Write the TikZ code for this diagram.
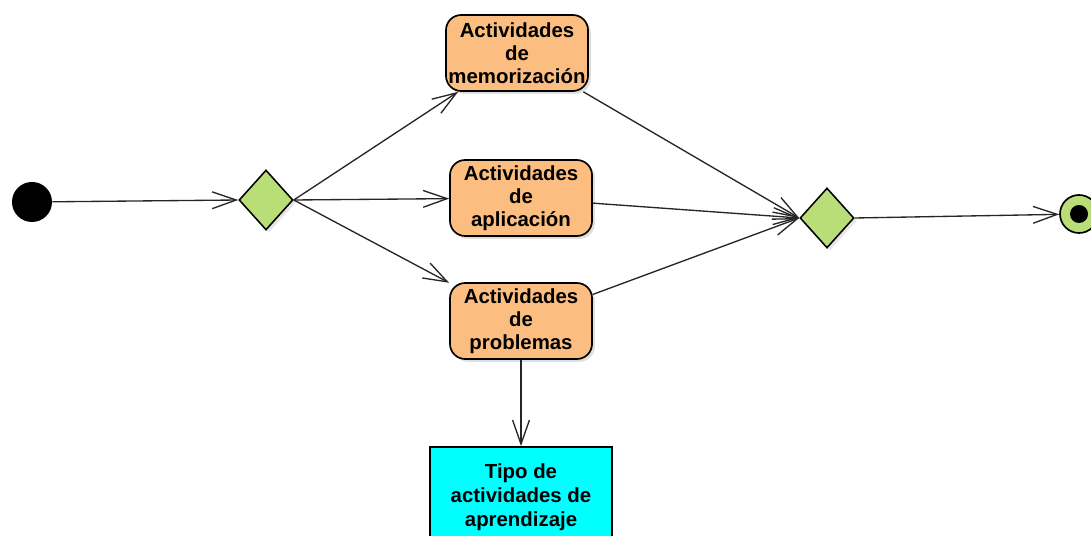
\documentclass[tikz,border=0pt]{standalone}
\usepackage{fontspec}
\setmainfont{Liberation Sans}
\usepackage{xcolor}
\usetikzlibrary{shapes.geometric}
\usetikzlibrary{arrows.meta}
\usetikzlibrary{shadows}
\definecolor{actorange}{RGB}{251,190,128}
\definecolor{decgreen}{RGB}{185,222,120}
\definecolor{objcyan}{RGB}{0,255,255}
\tikzset{activity/.style={draw=black, line width=1.2pt, fill=actorange, rounded corners=0.38cm,
   minimum width=3.55cm, minimum height=1.9cm, inner sep=0pt, align=center,
   font=\fontsize{14.5}{16.4}\selectfont\bfseries,
   drop shadow={shadow xshift=2pt, shadow yshift=-2pt, opacity=0.25}},
 decision/.style={diamond, draw=black, line width=1.1pt, fill=decgreen, inner sep=0pt,
   minimum width=1.35cm, minimum height=1.5cm,
   drop shadow={shadow xshift=2pt, shadow yshift=-2pt, opacity=0.2}},
 object/.style={draw=black, line width=1.2pt, fill=objcyan, minimum width=4.55cm,
   minimum height=2.5cm, inner sep=0pt, align=center,
   font=\fontsize{14.5}{17.2}\selectfont\bfseries},
 flow/.style={draw=black!85, line width=0.95pt,
   -{Straight Barb[length=0.6cm, width=0.42cm, line width=0.95pt]}},
 }

\begin{document}
\begin{tikzpicture}[x=0.025cm, y=-0.025cm]
        \useasboundingbox (0,0) rectangle (1091,536);
        % start and end
        \node[circle, fill=black, minimum size=1cm, inner sep=0pt] (start) at (32,202) {};
        \node[circle, draw=black, line width=1.2pt, fill=decgreen, minimum size=0.95cm, inner sep=0pt] (end) at (1079,214) {};
        \node[circle, fill=black, minimum size=0.45cm, inner sep=0pt] (enddot) at (end) {};
        % decisions
        \node[decision] (split) at (266,200) {};
        \node[decision] (merge) at (827,218) {};
        % activities
        \node[activity] (memo) at (517,53) {Actividades\\de\\memorizaci\'on};
        \node[activity] (aplic) at (521,198) {Actividades\\de\\aplicaci\'on};
        \node[activity] (probl) at (521,321) {Actividades\\de\\problemas};
        \node[object] (tipo) at (521,497) {Tipo de\\actividades de\\aprendizaje};
        % flows
        \draw[flow] (start) -- (split.west);
        \foreach \act in {memo, aplic, probl} {
            \draw[flow] (split.east) -- (\act);
            \draw[flow] (\act) -- (merge.west);
        }
        \draw[flow] (merge.east) -- (end);
        \draw[flow] (probl) -- (tipo);
    \end{tikzpicture}
\end{document}
